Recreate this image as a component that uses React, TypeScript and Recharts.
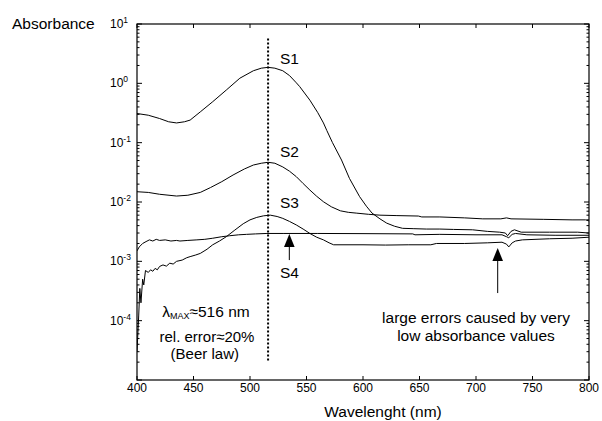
import { LineChart, Line, XAxis, YAxis, ReferenceLine, ReferenceDot } from 'recharts';

const FONT = '"Liberation Sans", Arial, sans-serif';

// wavelength (nm) / absorbance pairs
const S1_NM = [400, 410, 420, 428, 435, 442, 447, 456, 467, 479, 491, 503, 510, 516, 522, 529, 535, 541, 544, 553, 560, 565, 568, 573, 581, 588, 597, 603, 608, 615, 621, 628, 635, 645, 656, 668, 680, 697, 710, 721, 726, 728, 731, 734, 740, 765, 790, 800];
const S1_ABS = [0.31, 0.29, 0.255, 0.225, 0.215, 0.225, 0.24, 0.33, 0.49, 0.77, 1.22, 1.63, 1.8, 1.86, 1.8, 1.63, 1.35, 1.02, 0.88, 0.52, 0.32, 0.215, 0.16, 0.1, 0.051, 0.025, 0.0123, 0.0085, 0.0065, 0.0052, 0.0044, 0.0039, 0.0036, 0.00355, 0.0035, 0.0035, 0.00345, 0.0034, 0.0032, 0.0031, 0.003, 0.0027, 0.0032, 0.0034, 0.0031, 0.0031, 0.0031, 0.003];

const S2_NM = [400, 410, 420, 435, 445, 456, 465, 475, 485, 495, 503, 510, 516, 522, 529, 535, 541, 547, 553, 559, 565, 572, 580, 587, 594, 605, 615, 630, 649, 652, 668, 690, 706, 722, 727, 731, 760, 785, 797, 800];
const S2_ABS = [0.0149, 0.0145, 0.0135, 0.0126, 0.013, 0.0145, 0.0175, 0.022, 0.0285, 0.036, 0.042, 0.045, 0.0467, 0.045, 0.039, 0.033, 0.0267, 0.0205, 0.0159, 0.0125, 0.0101, 0.0083, 0.0071, 0.0067, 0.0065, 0.0062, 0.006, 0.0059, 0.0058, 0.0056, 0.0056, 0.0054, 0.0052, 0.0052, 0.0054, 0.0052, 0.0051, 0.005, 0.005, 0.0048];

const S3_NM = [400, 401.5, 402.5, 403.5, 405, 406, 407.5, 410, 412, 414, 416, 418, 420, 423, 426, 429, 432, 435, 440, 444, 447, 452, 456, 462, 467, 473, 479, 486, 494, 500, 506, 512, 518, 524, 529, 535, 541, 547, 553, 559, 565, 570, 574, 600, 620, 640, 660, 665, 690, 710, 723, 727, 729, 732, 735, 741, 765, 785, 800];
const S3_ABS = [3e-5, 1.2e-4, 3.5e-4, 2e-4, 5e-4, 4e-4, 7e-4, 6.5e-4, 7.2e-4, 6.8e-4, 7.6e-4, 7.2e-4, 8.2e-4, 8.7e-4, 8.3e-4, 9.3e-4, 9e-4, 1e-3, 1.05e-3, 1.15e-3, 1.2e-3, 1.28e-3, 1.36e-3, 1.6e-3, 1.9e-3, 2.2e-3, 2.6e-3, 3.3e-3, 4.3e-3, 5e-3, 5.5e-3, 5.85e-3, 6e-3, 5.7e-3, 5.3e-3, 4.7e-3, 4.1e-3, 3.5e-3, 2.95e-3, 2.55e-3, 2.3e-3, 2.05e-3, 1.9e-3, 1.9e-3, 1.88e-3, 1.9e-3, 1.9e-3, 2e-3, 2e-3, 2.05e-3, 2.1e-3, 1.95e-3, 1.75e-3, 2.05e-3, 2.2e-3, 2.3e-3, 2.4e-3, 2.45e-3, 2.55e-3];

const S4_NM = [400, 402, 405, 408, 411, 414, 417, 420, 425, 430, 435, 438, 445, 453, 460, 467, 475, 482, 490, 497, 505, 515, 530, 560, 600, 644, 646, 668, 700, 723, 727, 729, 732, 735, 745, 770, 800];
const S4_ABS = [1.5e-3, 1.75e-3, 2e-3, 2.15e-3, 2.3e-3, 2.2e-3, 2.35e-3, 2.25e-3, 2.3e-3, 2.2e-3, 2.25e-3, 2.2e-3, 2.25e-3, 2.3e-3, 2.35e-3, 2.45e-3, 2.6e-3, 2.7e-3, 2.8e-3, 2.85e-3, 2.9e-3, 2.95e-3, 2.95e-3, 2.95e-3, 2.93e-3, 2.9e-3, 2.8e-3, 2.85e-3, 2.8e-3, 2.8e-3, 2.6e-3, 2.5e-3, 2.85e-3, 2.95e-3, 2.8e-3, 2.75e-3, 2.75e-3];

const WL_TICKS = [400, 450, 500, 550, 600, 650, 700, 750, 800];
const DECADE_TICKS = [1e-5, 1e-4, 1e-3, 1e-2, 1e-1, 1, 10];
const MULTS = [1, 2, 3, 4, 5, 6, 7, 8, 9];
const ABS_MARKS = [...DECADE_TICKS.slice(0, -1).flatMap(d => MULTS.map(m => m * d)), 10];

const LAMBDA_MAX = 516;

const W = 602;
const H = 421;
const PLOT = { left: 137, top: 24, width: 452, height: 356 };
const X_DOM = [400, 800];
const Y_DOM = [1e-5, 10];

const zip = (xs: number[], ys: number[]) => xs.map((nm, i) => ({ nm, a: ys[i] }));

const isMajor = (v: number) => {
  const lg = Math.log10(v);
  return Math.abs(lg - Math.round(lg)) < 1e-6;
};

const LeftTick = ({ x, y, payload }: any) => {
  const exp = Math.round(Math.log10(payload.value));
  if (exp <= -5) return <g />;
  return (
    <text x={x - 27} y={y + 4} fontSize={12} fill="#000" fontFamily={FONT}>
      10<tspan dy={-5} fontSize={8.5}>{exp}</tspan>
    </text>
  );
};

const BottomTick = ({ x, y, payload }: any) => (
  <text x={x} y={y + 12} textAnchor="middle" fontSize={12} fill="#000" fontFamily={FONT}>
    {payload.value}
  </text>
);

const txt = (s: string, anchor: 'start' | 'middle' = 'start', size = 15.5) => (p: any) => (
  <text x={p.cx} y={p.cy} textAnchor={anchor} fontSize={size} fill="#000" fontFamily={FONT}>
    {s}
  </text>
);

const arrowHead = (p: any) => (
  <path d={`M${p.cx},${p.cy} L${p.cx - 5.3},${p.cy + 13} L${p.cx + 5.3},${p.cy + 13} Z`} fill="#000" />
);

// box frame with inward tick marks, laid over the plot area
function Frame() {
  const lx = Math.log10(Y_DOM[0]);
  const hx = Math.log10(Y_DOM[1]);
  const px = (nm: number) => PLOT.left + ((nm - X_DOM[0]) / (X_DOM[1] - X_DOM[0])) * PLOT.width;
  const py = (v: number) => PLOT.top + ((hx - Math.log10(v)) / (hx - lx)) * PLOT.height;
  const r = PLOT.left + PLOT.width;
  const b = PLOT.top + PLOT.height;
  let d = '';
  ABS_MARKS.forEach(v => {
    const len = isMajor(v) ? 5 : 2.5;
    const y = py(v);
    d += `M${PLOT.left},${y}h${len}M${r},${y}h${-len}`;
  });
  WL_TICKS.forEach(t => {
    const x = px(t);
    d += `M${x},${b}v-4M${x},${PLOT.top}v4`;
  });
  return (
    <svg width={W} height={H} style={{ position: 'absolute', left: 0, top: 0, pointerEvents: 'none' }}>
      <rect x={PLOT.left} y={PLOT.top} width={PLOT.width} height={PLOT.height} fill="none" stroke="#000" strokeWidth={1.2} />
      <path d={d} stroke="#000" strokeWidth={1} fill="none" />
    </svg>
  );
}

export default function App() {
  const series = [zip(S1_NM, S1_ABS), zip(S2_NM, S2_ABS), zip(S3_NM, S3_ABS), zip(S4_NM, S4_ABS)];
  return (
    <div style={{ position: 'absolute', left: 0, top: 0, width: W, height: H, fontFamily: FONT, background: '#fff' }}>
      <LineChart
        width={W}
        height={H}
        margin={{ top: PLOT.top, right: W - PLOT.left - PLOT.width, bottom: 0, left: 0 }}
      >
        <XAxis
          type="number"
          dataKey="nm"
          domain={X_DOM}
          ticks={WL_TICKS}
          interval={0}
          tickSize={0}
          tickMargin={0}
          tick={<BottomTick />}
          height={H - PLOT.top - PLOT.height}
          axisLine={false}
          allowDataOverflow
        />
        <YAxis
          type="number"
          scale="log"
          domain={Y_DOM}
          ticks={DECADE_TICKS}
          interval={0}
          tickSize={0}
          tickMargin={0}
          tick={<LeftTick />}
          width={PLOT.left}
          axisLine={false}
          allowDataOverflow
        />
        {series.map((d, i) => (
          <Line key={i} data={d} dataKey="a" type="linear" stroke="#000" strokeWidth={1} dot={false} isAnimationActive={false} />
        ))}
        <ReferenceLine
          segment={[{ x: LAMBDA_MAX, y: 5.7 }, { x: LAMBDA_MAX, y: 2.05e-5 }]}
          stroke="#000"
          strokeWidth={2}
          strokeDasharray="2 2"
        />
        <ReferenceLine segment={[{ x: 534.8, y: 2.2e-3 }, { x: 534.8, y: 1.05e-3 }]} stroke="#000" strokeWidth={1} />
        <ReferenceDot x={534.8} y={2.89e-3} r={0} shape={arrowHead} />
        <ReferenceLine segment={[{ x: 719.2, y: 1.3e-3 }, { x: 719.2, y: 2.92e-4 }]} stroke="#000" strokeWidth={1} />
        <ReferenceDot x={719.2} y={1.68e-3} r={0} shape={arrowHead} />
        <ReferenceDot x={289.4} y={8.24} r={0} ifOverflow="visible" shape={txt('Absorbance')} />
        <ReferenceDot x={617.7} y={2.38e-6} r={0} ifOverflow="visible" shape={txt('Wavelenght (nm)', 'middle')} />
        <ReferenceDot x={526.5} y={2.12} r={0} shape={txt('S1')} />
        <ReferenceDot x={526.5} y={0.0573} r={0} shape={txt('S2')} />
        <ReferenceDot x={526.5} y={0.00792} r={0} shape={txt('S3')} />
        <ReferenceDot x={526.5} y={5.24e-4} r={0} shape={txt('S4')} />
        <ReferenceDot
          x={461}
          y={1.15e-4}
          r={0}
          shape={(p: any) => (
            <text x={p.cx} y={p.cy} textAnchor="middle" fontSize={15.5} fill="#000" fontFamily={FONT}>
              λ<tspan fontSize={9} dy={2}>MAX</tspan>
              <tspan dy={-2}>≈516 nm</tspan>
            </text>
          )}
        />
        <ReferenceDot x={461.9} y={4.3e-5} r={0} shape={txt('rel. error≈20%', 'middle', 15)} />
        <ReferenceDot x={460} y={2.25e-5} r={0} shape={txt('(Beer law)', 'middle', 15)} />
        <ReferenceDot x={700} y={9.0e-5} r={0} shape={txt('large errors caused by very', 'middle')} />
        <ReferenceDot x={700} y={4.54e-5} r={0} shape={txt('low absorbance values', 'middle')} />
      </LineChart>
      <Frame />
    </div>
  );
}
